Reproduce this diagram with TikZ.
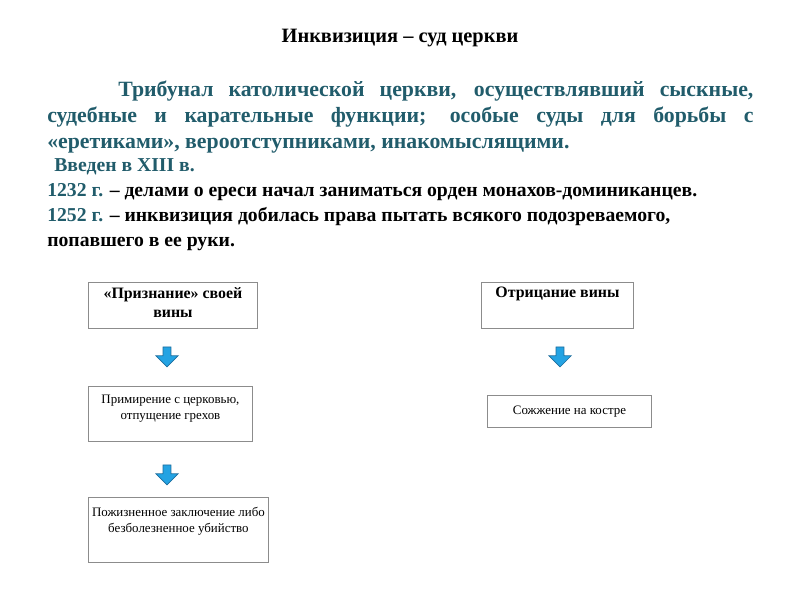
\documentclass[tikz,border=0pt]{standalone}
\usepackage{fontspec}
\setmainfont{Liberation Serif}
\usepackage{xcolor}
\usetikzlibrary{positioning, shapes.arrows}

\definecolor{slate}{HTML}{215C6B}
\definecolor{arrowfill}{HTML}{24A3E3}
\definecolor{arrowline}{HTML}{1B6C9C}
\definecolor{boxline}{HTML}{8C8C8C}

\begin{document}
\begin{tikzpicture}[
  x=0.025cm, y=-0.025cm,
  heading/.style={font=\bfseries\fontsize{14.5}{16}\selectfont, inner sep=0pt},
  deftext/.style={font=\bfseries\fontsize{15.5}{18.4}\selectfont, text=slate,
                  text width=17.65cm, align=justify, inner sep=0pt},
  facts/.style={font=\bfseries\fontsize{14}{17.8}\selectfont, align=left, inner sep=0pt},
  card/.style={draw=boxline, line width=0.6pt, inner sep=0pt},
  cardhead/.style={card, font=\bfseries\fontsize{11.3}{13.5}\selectfont},
  cardtext/.style={card, font=\fontsize{9.2}{11.3}\selectfont},
  down/.style={single arrow, shape border rotate=270, draw=arrowline, fill=arrowfill,
               line width=0.5pt, minimum height=0.5cm, inner sep=0.09cm,
               single arrow head extend=0.18cm, single arrow head indent=0pt},
]
\useasboundingbox (0,0) rectangle (800,600);

% Heading and text block
\node[heading, anchor=base] (title) at (400,42) {Инквизиция – суд церкви};

\node[deftext, anchor=north west] (defn) at (47,81)
  {\hspace*{1.775cm}Трибунал католической церкви, осуществлявший сыскные,\linebreak
   судебные и карательные функции; особые суды для борьбы с\linebreak
   «еретиками», вероотступниками, инакомыслящими.};

\node[facts, anchor=north west] (dates) at (47,158)
  {\hspace*{5pt}\textcolor{slate}{Введен в XIII в.}\\
   \textcolor{slate}{1232 г.} – делами о ереси начал заниматься орден монахов-доминиканцев.\\
   \textcolor{slate}{1252 г.} – инквизиция добилась права пытать всякого подозреваемого,\\
   попавшего в ее руки.};

% Left branch
\node[cardhead, anchor=north west] (admit) at (88,282)
  {\parbox[b][1.15cm][t]{4.225cm}{\centering\vspace{3.5pt}«Признание» своей\\вины}};
\node[down] (a1) at (167,355) {};
\node[cardtext, anchor=north west] (peace) at (88,386)
  {\parbox[b][1.375cm][t]{4.1cm}{\centering\vspace{6pt}Примирение с церковью,\\отпущение грехов}};
\node[down] (a2) at (167,473) {};
\node[cardtext, anchor=north west] (prison) at (88,497)
  {\parbox[b][1.625cm][t]{4.5cm}{\centering\vspace{7pt}Пожизненное заключение либо\\безболезненное убийство}};

% Right branch
\node[cardhead, anchor=north west] (deny) at (481,282)
  {\parbox[b][1.15cm][t]{3.8cm}{\centering\vspace{3.5pt}Отрицание вины}};
\node[down] (a3) at (560,355) {};
\node[cardtext, anchor=north west] (stake) at (487,395)
  {\parbox[b][0.8cm][c]{4.1cm}{\centering Сожжение на костре}};

\end{tikzpicture}
\end{document}
